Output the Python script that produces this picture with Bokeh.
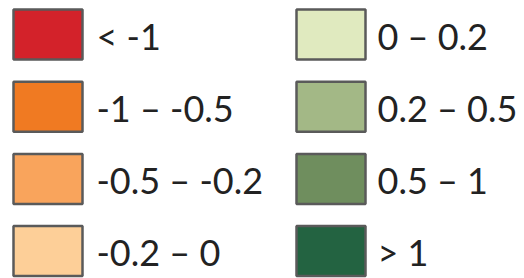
from bokeh.plotting import figure
from bokeh.models import Range1d, ColumnDataSource
from bokeh.core.properties import value
from bokeh.embed import file_html
from bokeh.resources import INLINE

labels = ["< -1", "-1 – -0.5", "-0.5 – -0.2", "-0.2 – 0",
          "0 – 0.2", "0.2 – 0.5", "0.5 – 1", "> 1"]
colors = ["#d3222a", "#f07a22", "#f9a45c", "#fdcf98",
          "#e0eabf", "#a3b886", "#6f8e5e", "#236341"]

n_rows = 4
col_idx = [i // n_rows for i in range(len(labels))]
row_idx = [i % n_rows for i in range(len(labels))]

box_w, box_h = 69, 50
left = [13 + c * 283 for c in col_idx]
top = [9 + r * 72.2 for r in row_idx]
src = ColumnDataSource(dict(
    left=left, right=[l + box_w for l in left],
    top=top, bottom=[t + box_h for t in top],
    tx=[96 + c * 281 for c in col_idx],
    ty=[t + box_h / 2 + 1 for t in top],
    label=labels, color=colors,
))

p = figure(width=524, height=278, output_backend="svg", toolbar_location=None,
           x_range=Range1d(0, 524), y_range=Range1d(278, 0),
           min_border=0, outline_line_color=None)
p.axis.visible = False
p.grid.visible = False
p.background_fill_color = "white"
p.border_fill_color = "white"

p.quad(left="left", right="right", top="top", bottom="bottom", source=src,
       fill_color="color", line_color="#5a5a5a", line_width=2.5)
p.text(x="tx", y="ty", text="label", source=src, text_font=value("Lato"),
       text_font_size="36px", text_baseline="middle", text_align="left",
       text_color="#222222")

open("out.html", "w").write(file_html(p, INLINE))
